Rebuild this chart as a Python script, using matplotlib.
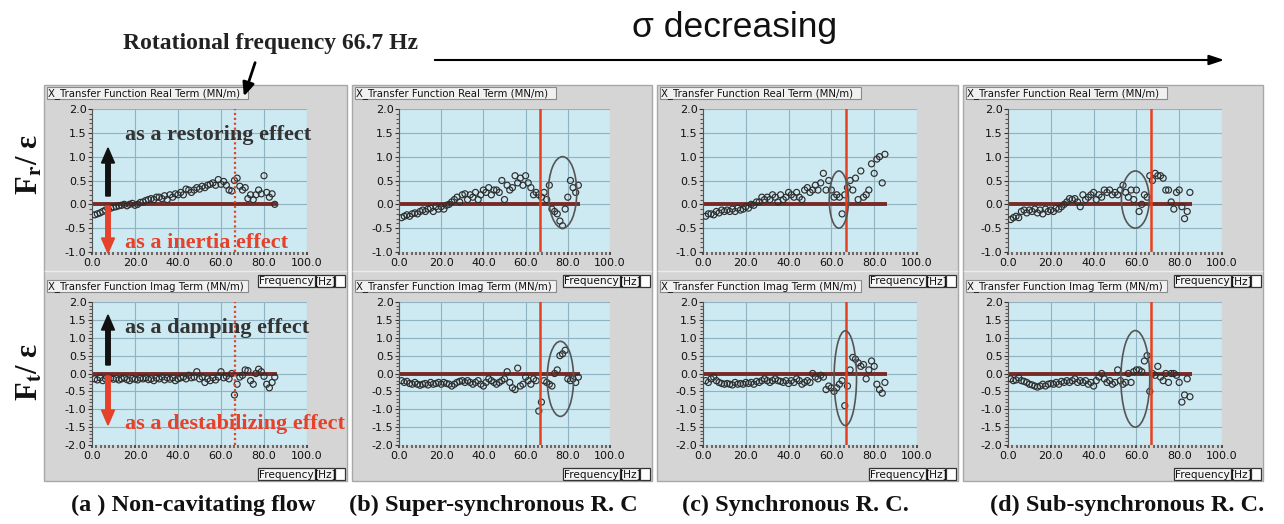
import matplotlib
matplotlib.use("Agg")
import matplotlib.pyplot as plt
from matplotlib.patches import Rectangle, Ellipse, FancyArrow
from matplotlib.ticker import MultipleLocator, FixedLocator, FixedFormatter

plt.rcParams['axes.unicode_minus'] = False
plt.rcParams['mathtext.fontset'] = 'stix'

# ---------------- data ----------------
freq = [1.25, 2.5, 3.75, 5.0, 6.25, 7.5, 8.75, 10.0,
        11.25, 12.5, 13.75, 15.0, 16.25, 17.5, 18.75, 20.0,
        21.25, 22.5, 23.75, 25.0, 26.25, 27.5, 28.75, 30.0,
        31.25, 32.5, 33.75, 35.0, 36.25, 37.5, 38.75, 40.0,
        41.25, 42.5, 43.75, 45.0, 46.25, 47.5, 48.75, 50.0,
        51.25, 52.5, 53.75, 55.0, 56.25, 57.5, 58.75, 60.0,
        61.25, 62.5, 63.75, 65.0, 66.25, 67.5, 68.75, 70.0,
        71.25, 72.5, 73.75, 75.0, 76.25, 77.5, 78.75, 80.0,
        81.25, 82.5, 83.75, 85.0]

a_real = [-0.22, -0.2, -0.18, -0.15, -0.12, -0.1, -0.08, -0.06,
          -0.05, -0.03, -0.02, 0.0, -0.03, 0.0, 0.02, -0.02,
          0.0, 0.04, 0.05, 0.08, 0.1, 0.12, 0.1, 0.15,
          0.15, 0.12, 0.18, 0.1, 0.2, 0.15, 0.22, 0.2,
          0.25, 0.2, 0.32, 0.3, 0.25, 0.3, 0.35, 0.32,
          0.38, 0.35, 0.4, 0.42, 0.45, 0.4, 0.52, 0.42,
          0.48, 0.4, 0.3, 0.28, 0.5, 0.55, 0.38, 0.3,
          0.35, 0.12, 0.2, 0.1, 0.2, 0.3, 0.22, 0.6,
          0.25, 0.15, 0.22, 0.0]
a_imag = [-0.15, -0.18, -0.12, -0.2, -0.15, -0.17, -0.13, -0.16,
          -0.14, -0.18, -0.15, -0.12, -0.17, -0.2, -0.14, -0.16,
          -0.18, -0.13, -0.15, -0.12, -0.17, -0.15, -0.2, -0.13,
          -0.15, -0.1, -0.18, -0.12, -0.16, -0.12, -0.2, -0.15,
          -0.12, -0.1, -0.15, -0.05, -0.12, -0.1, 0.05, -0.15,
          -0.1, -0.25, -0.15, -0.2, -0.12, -0.18, -0.1, 0.05,
          -0.12, -0.08, -0.15, 0.0, -0.6, -0.3, -0.1, -0.05,
          0.1, 0.08, -0.2, -0.3, 0.0, 0.12, 0.05, -0.08,
          -0.3, -0.4, -0.25, -0.1]
b_real = [-0.28, -0.25, -0.22, -0.25, -0.2, -0.18, -0.2, -0.15,
          -0.12, -0.15, -0.1, -0.08, -0.15, -0.05, -0.1, -0.05,
          -0.1, -0.02, 0.0, 0.05, 0.1, 0.15, 0.05, 0.2,
          0.22, 0.1, 0.2, 0.15, 0.25, 0.1, 0.2, 0.3,
          0.25, 0.35, 0.2, 0.3, 0.3, 0.25, 0.5, 0.1,
          0.4, 0.3, 0.35, 0.6, 0.45, 0.55, 0.4, 0.6,
          0.45, 0.35, 0.2, 0.25, 0.2, 0.15, 0.25, 0.1,
          0.4, -0.1, -0.15, -0.2, -0.35, -0.45, -0.1, 0.15,
          0.5, 0.35, 0.25, 0.4]
b_imag = [-0.2, -0.25, -0.22, -0.28, -0.3, -0.25, -0.3, -0.33,
          -0.3, -0.28, -0.32, -0.25, -0.3, -0.28, -0.25, -0.3,
          -0.25, -0.28, -0.3, -0.35, -0.3, -0.25, -0.22, -0.2,
          -0.25, -0.2, -0.25, -0.3, -0.25, -0.2, -0.3, -0.35,
          -0.25, -0.15, -0.2, -0.25, -0.3, -0.25, -0.2, -0.15,
          0.05, -0.25, -0.4, -0.45, 0.15, -0.35, -0.3, -0.1,
          -0.2, -0.3, -0.15, -0.2, -1.05, -0.8, -0.2, -0.25,
          -0.3, -0.35, 0.0, 0.1, 0.5, 0.55, 0.65, -0.15,
          -0.2, -0.15, -0.25, -0.1]
c_real = [-0.25, -0.2, -0.2, -0.22, -0.15, -0.18, -0.12, -0.15,
          -0.12, -0.15, -0.1, -0.15, -0.08, -0.12, -0.1, -0.05,
          -0.08, 0.0, -0.02, 0.05, 0.05, 0.15, 0.1, 0.15,
          0.1, 0.2, 0.15, 0.05, 0.2, 0.1, 0.15, 0.25,
          0.2, 0.15, 0.25, 0.15, 0.1, 0.3, 0.35, 0.25,
          0.3, 0.4, 0.3, 0.45, 0.65, 0.3, 0.5, 0.3,
          0.15, 0.2, 0.15, -0.2, 0.2, 0.35, 0.5, 0.3,
          0.55, 0.1, 0.7, 0.15, 0.2, 0.3, 0.85, 0.65,
          0.95, 1.0, 0.45, 1.05]
c_imag = [-0.2, -0.25, -0.15, -0.1, -0.2, -0.25, -0.28, -0.3,
          -0.28, -0.3, -0.32, -0.25, -0.3, -0.28, -0.3, -0.25,
          -0.28, -0.25, -0.3, -0.22, -0.25, -0.2, -0.15, -0.2,
          -0.25, -0.2, -0.15, -0.2, -0.22, -0.25, -0.2, -0.28,
          -0.2, -0.25, -0.15, -0.2, -0.3, -0.25, -0.2, -0.25,
          0.0, -0.1, -0.15, -0.05, -0.1, -0.45, -0.35, -0.4,
          -0.5, -0.4, -0.3, -0.2, -0.9, -0.35, 0.1, 0.45,
          0.4, 0.3, 0.2, 0.25, -0.15, 0.1, 0.35, 0.2,
          -0.3, -0.45, -0.55, -0.25]
d_real = [-0.32, -0.28, -0.25, -0.28, -0.15, -0.12, -0.18, -0.12,
          -0.15, -0.1, -0.18, -0.12, -0.2, -0.1, -0.15, -0.12,
          -0.15, -0.08, -0.1, -0.05, 0.0, 0.05, 0.12, 0.1,
          0.12, 0.05, -0.05, 0.2, 0.1, 0.15, 0.2, 0.25,
          0.1, 0.2, 0.15, 0.3, 0.25, 0.3, 0.2, 0.25,
          0.2, 0.3, 0.4, 0.25, 0.15, 0.3, 0.1, 0.3,
          -0.15, 0.0, 0.2, 0.15, 0.6, 0.5, 0.65, 0.6,
          0.6, 0.55, 0.3, 0.3, 0.05, -0.1, 0.25, 0.3,
          -0.05, -0.3, -0.15, 0.25]
d_imag = [-0.15, -0.2, -0.18, -0.12, -0.2, -0.22, -0.25, -0.3,
          -0.32, -0.35, -0.38, -0.35, -0.3, -0.35, -0.3, -0.28,
          -0.3, -0.25, -0.3, -0.22, -0.25, -0.2, -0.25, -0.2,
          -0.15, -0.25, -0.2, -0.25, -0.2, -0.3, -0.25, -0.35,
          -0.2, -0.1, 0.0, -0.15, -0.25, -0.2, -0.3, -0.25,
          0.1, -0.2, -0.3, -0.25, 0.0, -0.25, 0.05, 0.1,
          0.1, 0.05, 0.35, 0.5, -0.5, 0.0, -0.05, 0.2,
          -0.1, -0.2, 0.0, -0.25, 0.0, 0.0, -0.05, -0.25,
          -0.8, -0.6, -0.15, -0.65]

real_series = [a_real, b_real, c_real, d_real]
imag_series = [a_imag, b_imag, c_imag, d_imag]

rot_freq = 66.7
zero_line_end = 86.0

x_ticks = [0, 20, 40, 60, 80, 100]
real_yticks = [-1.0, -0.5, 0.0, 0.5, 1.0, 1.5, 2.0]
imag_yticks = [-2.0, -1.5, -1.0, -0.5, 0.0, 0.5, 1.0, 1.5, 2.0]

# highlighted regions (ellipses) for panels b, c, d: (cx, cy, width, height)
real_ellipses = [None, (77.5, 0.25, 13.5, 1.5), (63.5, 0.1, 9.0, 1.2), (59.5, 0.1, 13.0, 1.2)]
imag_ellipses = [None, (76.5, -0.15, 12.5, 2.1), (66.5, -0.13, 10.5, 2.65), (59.5, -0.15, 13.5, 2.7)]

captions = ["(a ) Non-cavitating flow", "(b) Super-synchronous R. C",
            "(c) Synchronous R. C.", "(d) Sub-synchronous R. C."]

# ---------------- layout (pixels) ----------------
W, H = 1284, 524
fig = plt.figure(figsize=(W / 100, H / 100), dpi=100)

frames = [(44, 347), (352, 652), (657, 958), (963, 1263)]
plot_x = [(92, 307), (399, 610), (703, 917), (1008, 1222)]
top_y = (109, 252)
bot_y = (302, 445)
caption_x = [193, 493, 795, 1127]

def ax_px(x0, y0, x1, y1, **kw):
    return fig.add_axes([x0 / W, 1 - y1 / H, (x1 - x0) / W, (y1 - y0) / H], **kw)

bg = ax_px(0, 0, W, H, zorder=0)
bg.set_xlim(0, W); bg.set_ylim(H, 0); bg.axis('off')

ov = ax_px(0, 0, W, H, zorder=10)
ov.set_xlim(0, W); ov.set_ylim(H, 0); ov.axis('off')
ov.patch.set_alpha(0)

TXT = dict(family='DejaVu Sans', fontsize=7.3, color='#111')
FTXT = dict(family='DejaVu Sans', fontsize=7.6, color='#111')

for (fx0, fx1) in frames:
    bg.add_patch(Rectangle((fx0, 85), fx1 - fx0, 396, facecolor='#d5d5d5',
                           edgecolor='#a8a8a8', lw=1))
    bg.plot([fx0 + 1, fx1 - 1], [271, 271], color='#ececec', lw=1)
    # title tabs
    for (ty, label) in [(87, 'X_Transfer Function Real Term (MN/m)'),
                        (280, 'X_Transfer Function Imag Term (MN/m)')]:
        bg.add_patch(Rectangle((fx0 + 3, ty), 201, 12, facecolor='#f1f1f1',
                               edgecolor='#8a8a8a', lw=0.8))
        bg.text(fx0 + 4, ty + 6.5, label, va='center', ha='left', **TXT)
    # frequency boxes
    for by in [275, 468]:
        bx = fx1 - 89
        bg.add_patch(Rectangle((bx, by), 57, 12, facecolor='#f4f4f4', edgecolor='#333', lw=0.9))
        bg.add_patch(Rectangle((bx + 58, by), 18, 12, facecolor='#f4f4f4', edgecolor='#333', lw=0.9))
        bg.add_patch(Rectangle((bx + 77, by), 10, 12, facecolor='#ffffff', edgecolor='#333', lw=0.9))
        bg.text(bx + 28.5, by + 6.5, 'Frequency', ha='center', va='center', **FTXT)
        bg.text(bx + 67, by + 6.5, '[Hz]', ha='center', va='center', **FTXT)


def style_axes(ax, yticks, ylim):
    ax.set_facecolor('#cde9f2')
    ax.set_xlim(0, 100)
    ax.set_ylim(*ylim)
    ax.xaxis.set_major_locator(FixedLocator(x_ticks))
    ax.xaxis.set_major_formatter(FixedFormatter([f'{v:.1f}' for v in x_ticks]))
    ax.yaxis.set_major_locator(FixedLocator(yticks))
    ax.yaxis.set_major_formatter(FixedFormatter([f'{v:.1f}' for v in yticks]))
    ax.xaxis.set_minor_locator(MultipleLocator(2))
    ax.yaxis.set_minor_locator(MultipleLocator(0.1))
    ax.grid(True, which='major', color='#8fb3c0', lw=0.8)
    ax.set_axisbelow(True)
    for s in ['top', 'right', 'bottom']:
        ax.spines[s].set_visible(False)
    ax.spines['left'].set_color('#555')
    ax.spines['left'].set_linewidth(0.8)
    ax.tick_params(axis='both', which='major', labelsize=8, colors='#333',
                   labelcolor='#111', length=3, width=0.8, pad=1)
    ax.tick_params(axis='both', which='minor', colors='#555', length=2, width=0.8)
    ax.tick_params(axis='x', which='both', length=2.5, width=1.2, pad=2)


for i in range(4):
    x0, x1 = plot_x[i]
    for row, (series, yticks, ylim, ell, yy) in enumerate([
            (real_series[i], real_yticks, (-1.0, 2.0), real_ellipses[i], top_y),
            (imag_series[i], imag_yticks, (-2.0, 2.0), imag_ellipses[i], bot_y)]):
        ax = ax_px(x0, yy[0], x1, yy[1], zorder=2)
        style_axes(ax, yticks, ylim)
        ax.plot([0, zero_line_end], [0, 0], color='#7a2a26', lw=2.8, zorder=2,
                solid_capstyle='butt')
        ax.scatter(freq, series, s=19, facecolors='none', edgecolors='#2e2e2e',
                   linewidths=0.85, zorder=3)
        if i == 0:
            ax.axvline(rot_freq, color='#e5442a', lw=1.6, ls=(0, (1, 1.2)), zorder=4)
        else:
            ax.axvline(rot_freq, ymin=0.0, ymax=1.0, color='#e8401c', lw=1.8, zorder=4)
        if ell is not None:
            ax.add_patch(Ellipse((ell[0], ell[1]), ell[2], ell[3], fill=False,
                                 edgecolor='#555555', lw=1.2, zorder=5))

# ---------------- annotations ----------------
SERIF = 'Liberation Serif'
ov.text(123, 43, 'Rotational frequency 66.7 Hz', family=SERIF, weight='bold',
        fontsize=17, ha='left', va='center', color='#222')
ov.annotate('', xy=(243, 99), xytext=(256, 60),
            arrowprops=dict(arrowstyle='-|>,head_width=0.35,head_length=0.8',
                            color='black', lw=2))

ov.text(735, 27, 'σ decreasing', family='Liberation Sans', fontsize=25.5,
        ha='center', va='center', color='#111')
ov.annotate('', xy=(1227, 60), xytext=(432, 60),
            arrowprops=dict(arrowstyle='-|>,head_width=0.3,head_length=0.9',
                            color='black', lw=1.5))

ov.text(30, 165, r'F$_\mathbf{r}$/ ε', family=SERIF, weight='bold', fontsize=22,
        rotation=90, ha='center', va='center', color='#111')
ov.text(30, 372, r'F$_\mathbf{t}$/ ε', family=SERIF, weight='bold', fontsize=22,
        rotation=90, ha='center', va='center', color='#111')

black = '#111111'
red = '#e5412b'
ov.add_patch(FancyArrow(108, 196, 0, -48, width=4.5, head_width=13, head_length=15,
                        length_includes_head=True, color=black))
ov.add_patch(FancyArrow(108, 206, 0, 47, width=4.5, head_width=13, head_length=15,
                        length_includes_head=True, color=red))
ov.add_patch(FancyArrow(108, 365, 0, -50, width=4.5, head_width=13, head_length=15,
                        length_includes_head=True, color=black))
ov.add_patch(FancyArrow(108, 376, 0, 49, width=4.5, head_width=13, head_length=15,
                        length_includes_head=True, color=red))

ov.text(125, 135, 'as a restoring effect', family=SERIF, weight='bold', fontsize=16,
        ha='left', va='center', color='#333')
ov.text(125, 243, 'as a inertia effect', family=SERIF, weight='bold', fontsize=16,
        ha='left', va='center', color=red)
ov.text(125, 328, 'as a damping effect', family=SERIF, weight='bold', fontsize=16,
        ha='left', va='center', color='#333')
ov.text(125, 424, 'as a destabilizing effect', family=SERIF, weight='bold', fontsize=16,
        ha='left', va='center', color=red)

for cx, cap in zip(caption_x, captions):
    ov.text(cx, 505, cap, family=SERIF, weight='bold', fontsize=17.5,
            ha='center', va='center', color='#111')

fig.savefig('out.png', dpi=100)
